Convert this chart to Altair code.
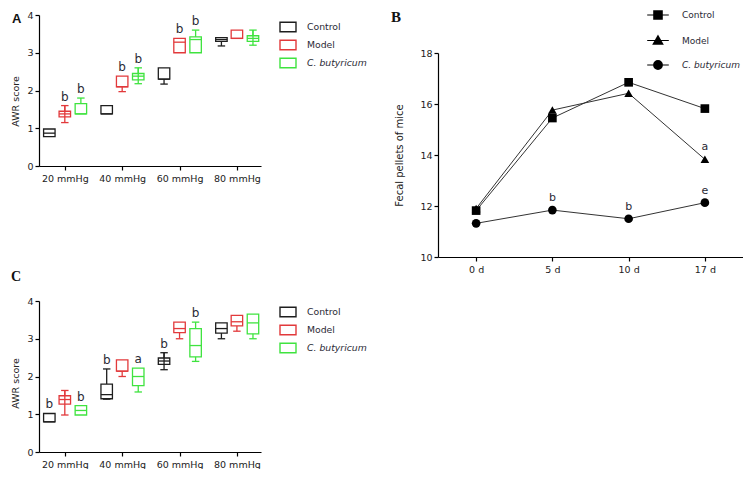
import json
import altair as alt
import pandas as pd

# ---------------- data ----------------
pressures = ["20 mmHg", "40 mmHg", "60 mmHg", "80 mmHg"]
groups = ["Control", "Model", "C. butyricum"]
group_colors = ["#1e1e1e", "#e2393b", "#3fe33f"]
group_offsets = [-0.27, 0.0, 0.28]

# Panel A box statistics per pressure: [min, q1, median, q3, max]
a_control = [[0.78, 0.78, 0.87, 0.98, 0.98], [1.38, 1.38, 1.38, 1.60, 1.60],
             [2.17, 2.30, 2.30, 2.60, 2.60], [3.18, 3.30, 3.35, 3.40, 3.40]]
a_model = [[1.15, 1.30, 1.38, 1.45, 1.60], [1.97, 2.10, 2.10, 2.38, 2.38],
           [3.00, 3.00, 3.28, 3.38, 3.38], [3.38, 3.38, 3.38, 3.60, 3.60]]
a_cbut = [[1.38, 1.38, 1.38, 1.65, 1.80], [2.18, 2.28, 2.38, 2.45, 2.60],
          [3.00, 3.00, 3.35, 3.42, 3.60], [3.20, 3.30, 3.38, 3.45, 3.60]]
a_sig_control = ["", "", "", ""]
a_sig_model = ["b", "b", "b", ""]
a_sig_cbut = ["b", "b", "b", ""]
a_cross_control = [0, 0, 0, 0]
a_cross_model = [1, 0, 0, 0]
a_cross_cbut = [0, 1, 0, 1]

# Panel C box statistics per pressure: [min, q1, median, q3, max]
c_control = [[0.80, 0.80, 0.80, 1.02, 1.02], [1.40, 1.41, 1.52, 1.80, 2.20],
             [2.18, 2.32, 2.41, 2.49, 2.63], [3.00, 3.15, 3.27, 3.42, 3.42]]
c_model = [[0.98, 1.27, 1.39, 1.49, 1.63], [2.00, 2.14, 2.14, 2.44, 2.44],
           [3.00, 3.16, 3.27, 3.44, 3.44], [3.20, 3.34, 3.45, 3.62, 3.62]]
c_cbut = [[0.98, 0.98, 1.10, 1.23, 1.23], [1.59, 1.76, 2.00, 2.22, 2.22],
          [2.40, 2.52, 2.82, 3.27, 3.44], [3.00, 3.13, 3.42, 3.65, 3.65]]
c_sig_control = ["b", "b", "b", ""]
c_sig_model = ["", "", "", ""]
c_sig_cbut = ["b", "a", "b", ""]
c_cross_control = [0, 0, 1, 0]
c_cross_model = [1, 0, 0, 0]
c_cross_cbut = [0, 0, 0, 0]

# Panel B: fecal pellets
days = ["0 d", "5 d", "10 d", "17 d"]
b_control = [11.82, 15.45, 16.85, 15.82]
b_model = [11.90, 15.76, 16.42, 13.83]
b_cbut = [11.32, 11.84, 11.50, 12.13]
b_sig_control = ["", "", "", ""]
b_sig_model = ["", "", "", "a"]
b_sig_cbut = ["", "b", "b", "e"]

FONT = "DejaVu Sans"
TXT = "#2a2a35"
ITALIC_EXPR = "datum.label == 'C. butyricum' ? 'italic' : 'normal'"


def box_table(stats, sigs, crosses):
    rows = []
    for gi, g in enumerate(groups):
        for pi in range(len(pressures)):
            mn, q1, md, q3, mx = stats[gi][pi]
            rows.append(dict(group=g, p=pi, g=gi, mn=mn, q1=q1, md=md, q3=q3,
                             mx=mx, sig=sigs[gi][pi], cross=crosses[gi][pi]))
    return pd.DataFrame(rows)


def box_panel(df, letter, title_dx, title_dy, title_y, legend_y):
    xs = alt.Scale(domain=[-0.45, 3.42], nice=False, zero=False)
    ys = alt.Scale(domain=[0, 4], nice=False, zero=True)
    label_expr = json.dumps(pressures) + "[datum.value]"
    xaxis = alt.Axis(values=[0, 1, 2, 3], labelExpr=label_expr, title=None,
                     labelPadding=3)
    yaxis = alt.Axis(values=[0, 1, 2, 3, 4], title="AWR score", titlePadding=6,
                     titleY=title_y)

    def X(f):
        return alt.X(f, type="quantitative", scale=xs, axis=xaxis)

    def Y(f):
        return alt.Y(f, type="quantitative", scale=ys, axis=yaxis)

    color = alt.Color(
        "group:N",
        scale=alt.Scale(domain=groups, range=group_colors),
        legend=alt.Legend(
            title=None, orient="none", legendX=240, legendY=legend_y,
            symbolType="M-1,-0.6H1V0.6H-1Z", symbolSize=256,
            symbolStrokeWidth=1.4, symbolFillColor="transparent",
            labelFont=FONT, labelFontSize=9.3, labelColor=TXT,
            labelOffset=10, rowPadding=1, padding=0,
            labelFontStyle=alt.ExprRef(expr=ITALIC_EXPR),
        ),
    )
    offs = json.dumps(group_offsets)
    base = alt.Chart(df).transform_calculate(
        pos=f"datum.p + {offs}[datum.g]",
    ).transform_calculate(
        bx0="datum.pos - 0.1", bx1="datum.pos + 0.1",
        c0="datum.pos - 0.065", c1="datum.pos + 0.065",
        lowtop="datum.cross ? datum.mx : datum.q1",
    )
    sw = 1.3
    box = base.mark_rect(filled=False, strokeWidth=sw).encode(
        x=X("bx0"), x2="bx1", y=Y("q1"), y2="q3", color=color)
    med = base.mark_rule(strokeWidth=sw).encode(
        x=X("bx0"), x2="bx1", y=Y("md"), color=color)
    wlo = base.mark_rule(strokeWidth=sw).encode(
        x=X("pos"), y=Y("mn"), y2="lowtop", color=color)
    whi = base.mark_rule(strokeWidth=sw).encode(
        x=X("pos"), y=Y("q3"), y2="mx", color=color)
    caplo = base.transform_filter("datum.mn < datum.q1").mark_rule(strokeWidth=sw).encode(
        x=X("c0"), x2="c1", y=Y("mn"), color=color)
    caphi = base.transform_filter("datum.mx > datum.q3").mark_rule(strokeWidth=sw).encode(
        x=X("c0"), x2="c1", y=Y("mx"), color=color)
    sig = base.transform_filter("datum.sig != ''").mark_text(
        dy=-5, baseline="alphabetic", fontSize=12, font=FONT, color=TXT).encode(
        x=X("pos"), y=Y("mx"), text="sig:N")
    font = "Liberation Sans" if letter == "A" else "Liberation Serif"
    size = 13 if letter == "A" else 14
    return alt.layer(box, med, wlo, whi, caplo, caphi, sig).properties(
        width=222, height=151,
        title=alt.TitleParams(letter, anchor="start", frame="group", font=font,
                              fontSize=size, fontWeight="bold", color="#111",
                              dx=title_dx, dy=title_dy),
    )


dfA = box_table([a_control, a_model, a_cbut], [a_sig_control, a_sig_model, a_sig_cbut],
                [a_cross_control, a_cross_model, a_cross_cbut])
dfC = box_table([c_control, c_model, c_cbut], [c_sig_control, c_sig_model, c_sig_cbut],
                [c_cross_control, c_cross_model, c_cross_cbut])

panelA = box_panel(dfA, "A", -27, 20, 86, 3)
panelC = box_panel(dfC, "C", -28, -8, 82, 2)

# ---- panel B ----
brows = []
for gi, (g, vals, sigs) in enumerate(zip(groups, [b_control, b_model, b_cbut],
                                         [b_sig_control, b_sig_model, b_sig_cbut])):
    for di, d in enumerate(days):
        brows.append(dict(group=g, day=d, value=vals[di], sig=sigs[di]))
dfB = pd.DataFrame(brows)

bx = alt.X("day:N", sort=days, scale=alt.Scale(type="point", padding=0.5),
           axis=alt.Axis(title=None, labelAngle=0, labelPadding=3, labelFontSize=9.5))
by = alt.Y("value:Q", scale=alt.Scale(domain=[10, 18], nice=False, zero=False),
           axis=alt.Axis(values=[10, 12, 14, 16, 18], title="Fecal pellets of mice",
                         titleFontSize=10, titlePadding=15))

b_lines = alt.Chart(dfB).mark_line(color="#333", strokeWidth=1).encode(
    x=bx, y=by, detail="group:N")
b_points = alt.Chart(dfB).mark_point(filled=True, color="black", opacity=1, size=75).encode(
    x=bx, y=by,
    shape=alt.Shape("group:N", scale=alt.Scale(domain=groups,
                                               range=["square", "triangle-up", "circle"]),
                    legend=None))


# legend glyphs: a short line with a solid marker (marker filled by dense strokes)
def _fmt(v):
    return f"{v:.3f}"


def glyph(kind):
    parts = ["M-0.9,0H0.9"]
    step = 0.06
    n = 13
    if kind == "square":
        r = 0.35
        parts.append(f"M{_fmt(-r)},{_fmt(-r)}H{_fmt(r)}V{_fmt(r)}H{_fmt(-r)}Z")
        for k in range(n):
            y = -r + 2 * r * k / (n - 1)
            parts.append(f"M{_fmt(-r)},{_fmt(y)}H{_fmt(r)}")
    elif kind == "triangle":
        top, base, hw = -0.4, 0.3, 0.4
        parts.append(f"M0,{_fmt(top)}L{_fmt(hw)},{_fmt(base)}H{_fmt(-hw)}Z")
        for k in range(n):
            y = top + (base - top) * k / (n - 1)
            w = hw * (y - top) / (base - top)
            parts.append(f"M{_fmt(-w)},{_fmt(y)}H{_fmt(w)}")
    else:
        r = 0.36
        parts.append(f"M{_fmt(-r)},0A{r},{r} 0 1,0 {_fmt(r)},0A{r},{r} 0 1,0 {_fmt(-r)},0Z")
        for k in range(n):
            y = -r + 2 * r * k / (n - 1)
            w = max(r * r - y * y, 0) ** 0.5
            parts.append(f"M{_fmt(-w)},{_fmt(y)}H{_fmt(w)}")
    return "".join(parts)


leg_paths = [glyph("square"), glyph("triangle"), glyph("circle")]
b_legend = alt.Chart(dfB).mark_point(
    filled=False, color="black", strokeWidth=1.2, opacity=0).encode(
    x=bx, y=by,
    shape=alt.Shape("group:N", scale=alt.Scale(domain=groups, range=leg_paths),
                    legend=alt.Legend(
                        title=None, orient="none", legendX=207, legendY=-51,
                        symbolSize=576, symbolStrokeColor="black",
                        symbolStrokeWidth=1.2, symbolFillColor="transparent",
                        symbolOpacity=1, labelFont=FONT, labelFontSize=9,
                        labelColor=TXT, labelOffset=11, rowPadding=5.5, padding=0,
                        labelFontStyle=alt.ExprRef(expr=ITALIC_EXPR),
                    )))
b_sig = alt.Chart(dfB).transform_filter("datum.sig != ''").mark_text(
    dy=-9, baseline="alphabetic", fontSize=11, font=FONT, color=TXT).encode(
    x=bx, y=by, text="sig:N")

panelB = alt.layer(b_lines, b_points, b_legend, b_sig).resolve_scale(
    shape="independent").properties(
    width=305, height=204,
    title=alt.TitleParams("B", anchor="start", frame="group", font="Liberation Serif",
                          fontSize=15, fontWeight="bold", color="#111", dx=-47, dy=27),
)

spacer = alt.Chart(pd.DataFrame({"v": [0]})).mark_text(text="").properties(
    width=1, height=1)
right = alt.vconcat(spacer, panelB, spacing=37, bounds="flush")

left = alt.vconcat(panelA, panelC, spacing=87).resolve_scale(
    color="independent").resolve_legend(color="independent")

chart = alt.hconcat(left, right, spacing=24).resolve_scale(
    color="independent", shape="independent").properties(
    padding={"left": 2, "top": -6, "right": 0, "bottom": 0}
).configure_view(stroke=None).configure_axis(
    domainColor="#000", tickColor="#000", domainWidth=1.2, tickWidth=1.2,
    tickSize=4, labelColor="#222", labelFont=FONT, labelFontSize=9.5,
    titleFont=FONT, titleFontSize=9.5, titleFontWeight="normal",
    titleColor="#222", grid=False,
)

chart.save("out.html", embed_options={"renderer": "svg", "actions": False})
